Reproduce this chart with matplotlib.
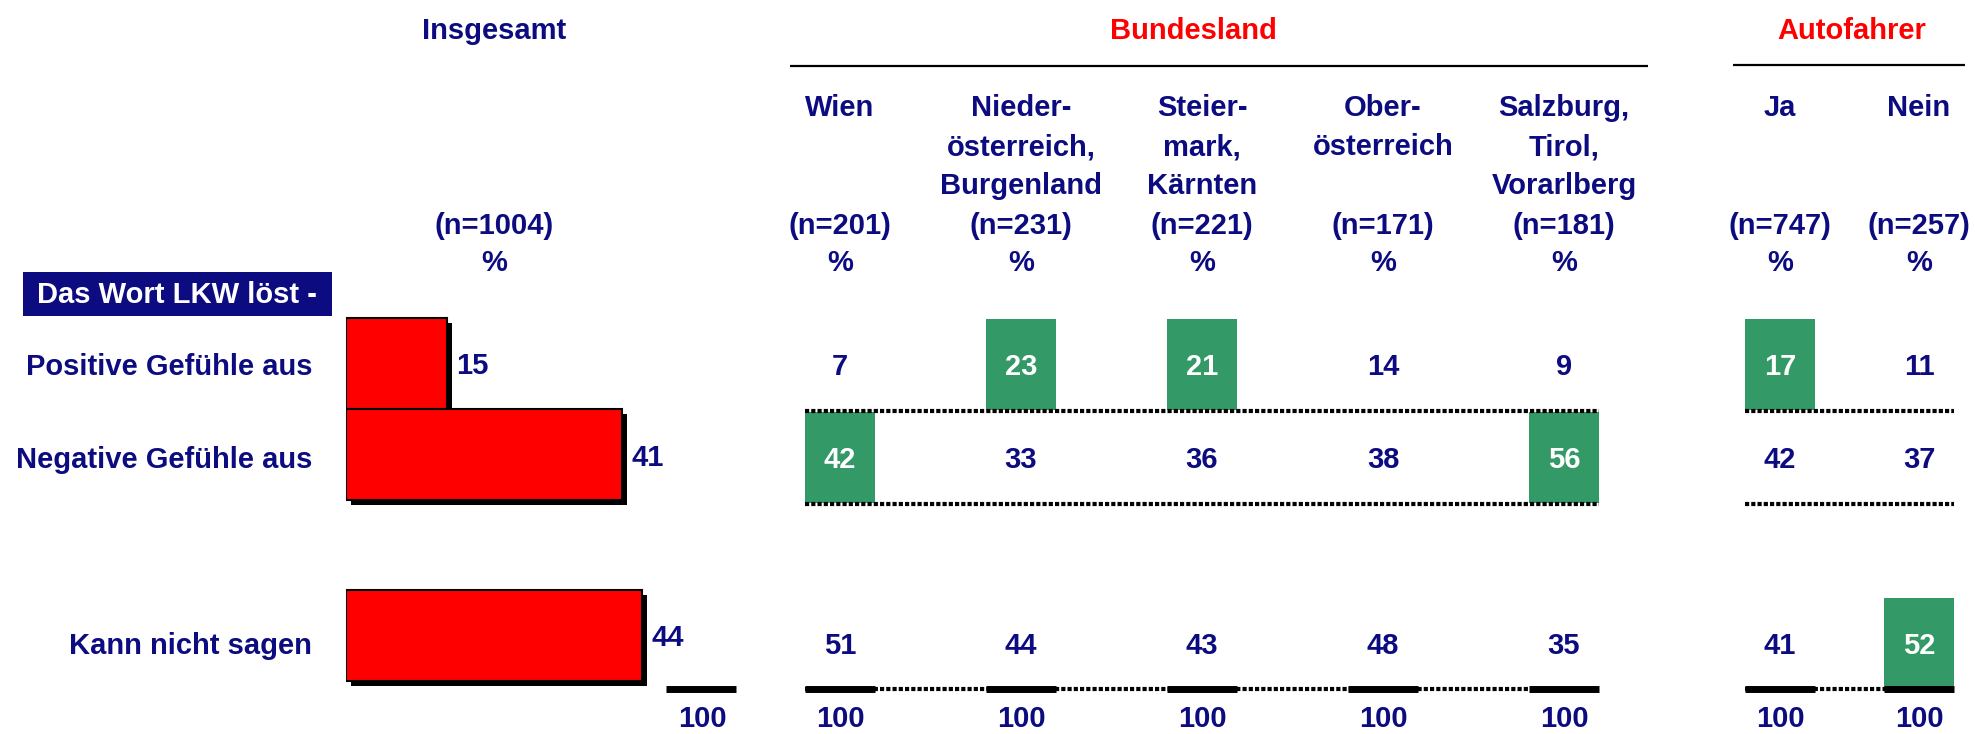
import matplotlib.pyplot as plt
import matplotlib.patheffects as pe
from matplotlib.patches import Rectangle

# ----- Daten -----
categories = ["Positive Gefühle aus", "Negative Gefühle aus", "Kann nicht sagen"]
total = [15, 41, 44]
total_n = 1004

col_headers = [
    ["Wien"],
    ["Nieder-", "österreich,", "Burgenland"],
    ["Steier-", "mark,", "Kärnten"],
    ["Ober-", "österreich"],
    ["Salzburg,", "Tirol,", "Vorarlberg"],
    ["Ja"],
    ["Nein"],
]
col_n = [201, 231, 221, 171, 181, 747, 257]
positive = [7, 23, 21, 14, 9, 17, 11]
negative = [42, 33, 36, 38, 56, 42, 37]
weiss_nicht = [51, 44, 43, 48, 35, 41, 52]
# hervorgehobene Zellen (Zeile, Spalte)
highlight = [(0, 1), (0, 2), (0, 5), (1, 0), (1, 4), (2, 6)]
groups = ["Bundesland", "Autofahrer"]
group_cols = [[0, 1, 2, 3, 4], [5, 6]]

# ----- Layout / Stil -----
W, H = 1975, 734
NAVY = "#0c0c80"
RED = "#ff0000"
GREEN = "#339966"
FONT = ["Liberation Sans", "DejaVu Sans"]
FS = 21
DY = 3  # optische Korrektur fuer va='center'

col_x = [840, 1021, 1202, 1383, 1564, 1780, 1919]
tot_x = 494
bar_rows = [363.5, 454.5, 635.5]
tab_rows = [364, 457, 643]
box_w, box_h = 70, 91
bar_left_px, px_per_unit = 346, 6.73

plt.rcParams['font.family'] = FONT

fig = plt.figure(figsize=(W / 100, H / 100), dpi=100)
ax = fig.add_axes([0, 0, 1, 1])
ax.set_xlim(0, W)
ax.set_ylim(H, 0)
ax.axis("off")

def txt(x, y, s, color=NAVY, **kw):
    ax.text(x, y + DY, s, color=color, fontsize=FS, fontweight="bold",
            ha=kw.pop("ha", "center"), va=kw.pop("va", "center"), **kw)

# ----- Kopfzeilen -----
txt(tot_x, 28, "Insgesamt")
txt(tot_x, 223, f"(n={total_n})")
txt(tot_x, 260, "%")

group_lines = [(790, 1648, 66), (1733, 1965, 65)]
group_title_x = [1193, 1852]
for g, gx, (x0, x1, yl) in zip(groups, group_title_x, group_lines):
    txt(gx, 28, g, color=RED)
    ax.plot([x0, x1], [yl, yl], color="black", lw=1.6, solid_capstyle="butt")

for x, lines, n in zip(col_x, col_headers, col_n):
    for i, line in enumerate(lines):
        txt(x, 105 + i * 39, line)
    txt(x, 223, f"(n={n})")
    txt(x, 260, "%")

# ----- Linke Seite: Frage + Balken -----
ax.add_patch(Rectangle((23, 272), 309, 44, fc=NAVY, ec="none"))
txt(177, 292, "Das Wort LKW löst -", color="white")
for y, cat in zip(tab_rows, categories):
    txt(312, y, cat, ha="right")

axb = fig.add_axes([bar_left_px / W, 0, 100 * px_per_unit / W, 1])
axb.set_xlim(0, 100)
axb.set_ylim(H, 0)
axb.axis("off")
bars = axb.barh(bar_rows, total, height=box_h, color=RED, edgecolor="black", lw=1.5)
for b in bars:
    b.set_path_effects([pe.SimplePatchShadow(offset=(3.6, -3.6), shadow_rgbFace="black", alpha=1),
                        pe.Normal()])
for y, v in zip(bar_rows, total):
    axb.text(v + 1.4, y + DY, str(v), color=NAVY, fontsize=FS, fontweight="bold",
             ha="left", va="center")

# ----- Tabelle -----
table = [positive, negative, weiss_nicht]
for (r, c) in highlight:
    ax.bar(col_x[c], box_h, width=box_w, bottom=tab_rows[r] - box_h / 2,
           color=GREEN, lw=0, zorder=1)
for r, vals in enumerate(table):
    for c, v in enumerate(vals):
        txt(col_x[c], tab_rows[r], str(v), color="white" if (r, c) in highlight else NAVY, zorder=3)

dot = dict(color="black", lw=3, linestyle=(0, (1, 0.5)), zorder=2)
for cols in group_cols:
    x0 = col_x[cols[0]] - box_w / 2
    x1 = col_x[cols[-1]] + box_w / 2
    for y in (411, 504, 689):
        ax.plot([x0, x1], [y, y], **dot)
    for c in cols:
        ax.plot([col_x[c] - box_w / 2, col_x[c] + box_w / 2], [689, 689],
                color="black", lw=5, solid_capstyle="butt", zorder=3)
        txt(col_x[c], H - 1 - DY, "100", va="bottom")

# Summenstrich Insgesamt
ax.plot([666, 736], [689, 689], color="black", lw=5, solid_capstyle="butt")
txt(702, H - 1 - DY, "100", va="bottom")

fig.savefig("out.png", dpi=100)
